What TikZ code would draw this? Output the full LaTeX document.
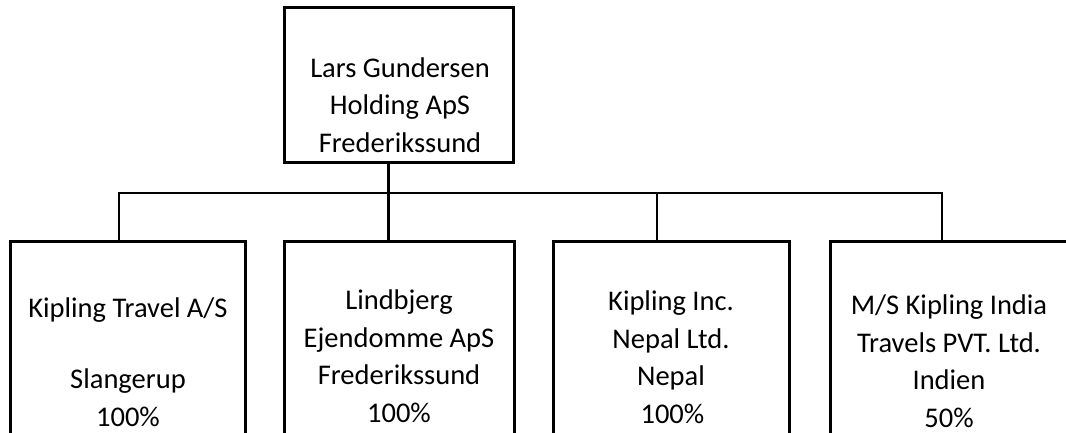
\documentclass[tikz,border=0pt]{standalone}
\usepackage{fontspec}
\setmainfont{Carlito}
\begin{document}
\begin{tikzpicture}[x=1pt,y=-1pt,
  box/.style={draw=black, line width=3pt, rectangle, inner sep=0pt},
  lbl/.style={align=center, font=\fontsize{28.5}{37.5}\selectfont, inner sep=0pt},
  link/.style={draw=black, line width=2pt, line join=miter},
  trunk/.style={draw=black, line width=3pt}]
\path[use as bounding box] (0,0) rectangle (1066,433);
\begin{scope}
\clip (0,0) rectangle (1066,433);
% boxes
\node[box, minimum width=228.5pt, minimum height=155pt] (top) at (398.75,85.5) {};
\node[box, minimum width=235pt, minimum height=242pt] (b1) at (127.5,362) {};
\node[box, minimum width=230pt, minimum height=242pt] (b2) at (399,362) {};
\node[box, minimum width=236pt, minimum height=242pt] (b3) at (671,362) {};
\node[box, minimum width=238pt, minimum height=242pt] (b4) at (949,362) {};
% texts
\node[lbl] (ttop) at (400,105) {Lars Gundersen\\Holding ApS\\Frederikssund};
\node[lbl] (t1) at (128,362) {Kipling Travel A/S\\[34pt]Slangerup\\100\%};
\node[lbl] (t2) at (399,356) {Lindbjerg\\Ejendomme ApS\\Frederikssund\\100\%};
\node[lbl] (t3) at (671,357) {Kipling Inc.\\Nepal Ltd.\\Nepal\hspace*{0.4em}\\\hspace*{0.1em}100\%};
\node[lbl] (t4) at (949,361) {M/S Kipling India\\Travels PVT. Ltd.\\Indien\\50\%};
% connectors
\coordinate (j) at (388,193);
\coordinate (d1) at (119,193);
\coordinate (d3) at (657,193);
\coordinate (d4) at (942,193);
\draw[trunk] (top.south -| j) -- (b2.north -| j);
\draw[link] (d1 |- b1.north) -- (d1) -- (d4) -- (d4 |- b4.north);
\draw[link] (d3) -- (d3 |- b3.north);
\end{scope}
\end{tikzpicture}
\end{document}
